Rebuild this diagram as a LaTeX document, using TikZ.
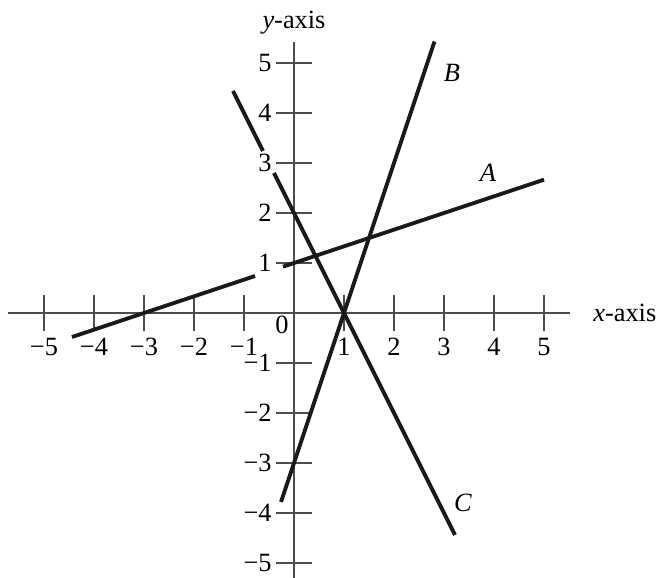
\documentclass[tikz,border=0pt]{standalone}
\usepackage{fontspec}
\setmainfont{Liberation Serif}
\usetikzlibrary{positioning}
\definecolor{AxisGray}{HTML}{4D4D4D}
\definecolor{LineBlack}{HTML}{1A1A1A}

\begin{document}
\begin{tikzpicture}[x=1cm, y=1cm, font=\fontsize{15}{18}\selectfont]
      \useasboundingbox (-5.88,-5.3) rectangle (7.36,6.26);

      % Axes
      \coordinate (xmin) at (-5.72,0);
      \coordinate (xmax) at (5.52,0);
      \coordinate (ymin) at (0,-5.3);
      \coordinate (ymax) at (0,5.42);
      \draw [color=AxisGray, line width=0.6pt] (xmin) -- (xmax);
      \draw [color=AxisGray, line width=0.6pt] (ymin) -- (ymax);

      \node [right=0.46cm of xmax, inner sep=0pt] (xaxis) {\textit{x}-axis};
      \node [above=0.14cm of ymax, inner sep=0pt] (yaxis) {\textit{y}-axis};

      % Ticks
      \foreach \v/\t in {-5/−5, -4/−4, -3/−3, -2/−2, -1/−1, 1/1, 2/2, 3/3, 4/4, 5/5} {
        \draw [color=AxisGray, line width=0.6pt] (\v,-0.36) -- (\v,0.36);
        \draw [color=AxisGray, line width=0.6pt] (-0.36,\v) -- (0.36,\v);
        \node [inner sep=0pt] (xtick\v) at (\v,-0.68) {\t};
        \node [anchor=east, inner sep=0pt] (ytick\v) at (-0.44,\v) {\t};
      }
      \node [inner sep=0pt] (zero) at (-0.24,-0.24) {0};

      % Lines
      \coordinate (Astart) at (-4.44,-0.48);
      \coordinate (Acut1) at (-0.78,0.74);
      \coordinate (Acut2) at (-0.22,0.927);
      \coordinate (Aend) at (5,2.667);
      \coordinate (Bstart) at (-0.26,-3.78);
      \coordinate (Bend) at (2.81,5.43);
      \coordinate (Cstart) at (-1.22,4.44);
      \coordinate (Ccut1) at (-0.62,3.24);
      \coordinate (Ccut2) at (-0.4,2.8);
      \coordinate (Cend) at (3.22,-4.44);

      \draw [color=LineBlack, line width=2.2pt] (Astart) -- (Acut1);
      \draw [color=LineBlack, line width=2.2pt] (Acut2) -- (Aend);
      \draw [color=LineBlack, line width=2.2pt] (Bstart) -- (Bend);
      \draw [color=LineBlack, line width=2.2pt] (Cstart) -- (Ccut1);
      \draw [color=LineBlack, line width=2.2pt] (Ccut2) -- (Cend);

      \node [inner sep=0pt] (labA) at (3.88,2.8) {\textit{A}};
      \node [inner sep=0pt] (labB) at (3.16,4.8) {\textit{B}};
      \node [inner sep=0pt] (labC) at (3.38,-3.8) {\textit{C}};
    \end{tikzpicture}
\end{document}
